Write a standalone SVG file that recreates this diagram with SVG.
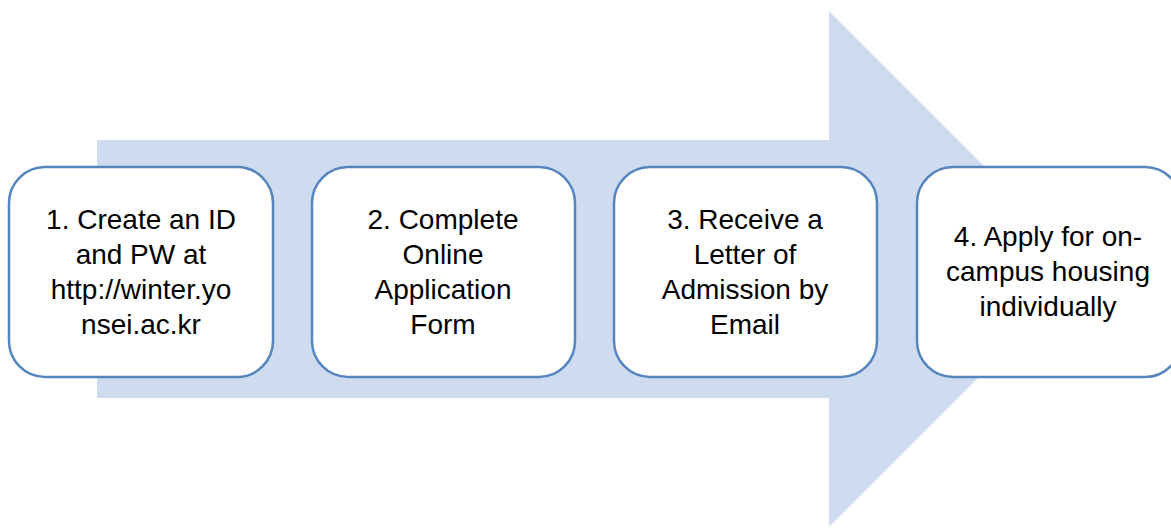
<svg xmlns="http://www.w3.org/2000/svg" width="1171" height="529" viewBox="0 0 1171 529">
<style>
.box{fill:#ffffff;stroke:#5585bf;stroke-width:2.5}
.t{font-family:"Liberation Sans",Arial,sans-serif;font-size:28px;fill:#000;text-anchor:middle}
</style>
<rect width="1171" height="529" fill="#ffffff"/>
<g id="arrow">
<polygon points="97,140 829,140 829,11 1087,269 829,527 829,398 97,398" fill="#cfdbee"/>
</g>
<g id="connectors"></g>
<g id="step1">
<rect class="box" x="9" y="167" width="264" height="210" rx="36"/>
<text class="t" x="141" y="229">1. Create an ID</text>
<text class="t" x="141" y="264">and PW at</text>
<text class="t" x="141" y="299">http://winter.yo</text>
<text class="t" x="141" y="334">nsei.ac.kr</text>
</g>
<g id="step2">
<rect class="box" x="312" y="167" width="263" height="210" rx="36"/>
<text class="t" x="443" y="229">2. Complete</text>
<text class="t" x="443" y="264">Online</text>
<text class="t" x="443" y="299">Application</text>
<text class="t" x="443" y="334">Form</text>
</g>
<g id="step3">
<rect class="box" x="614" y="167" width="263" height="210" rx="36"/>
<text class="t" x="745" y="229">3. Receive a</text>
<text class="t" x="745" y="264">Letter of</text>
<text class="t" x="745" y="299">Admission by</text>
<text class="t" x="745" y="334">Email</text>
</g>
<g id="step4">
<rect class="box" x="917" y="167" width="264" height="210" rx="36"/>
<text class="t" x="1048" y="246">4. Apply for on-</text>
<text class="t" x="1048" y="281">campus housing</text>
<text class="t" x="1048" y="316">individually</text>
</g>
</svg>
